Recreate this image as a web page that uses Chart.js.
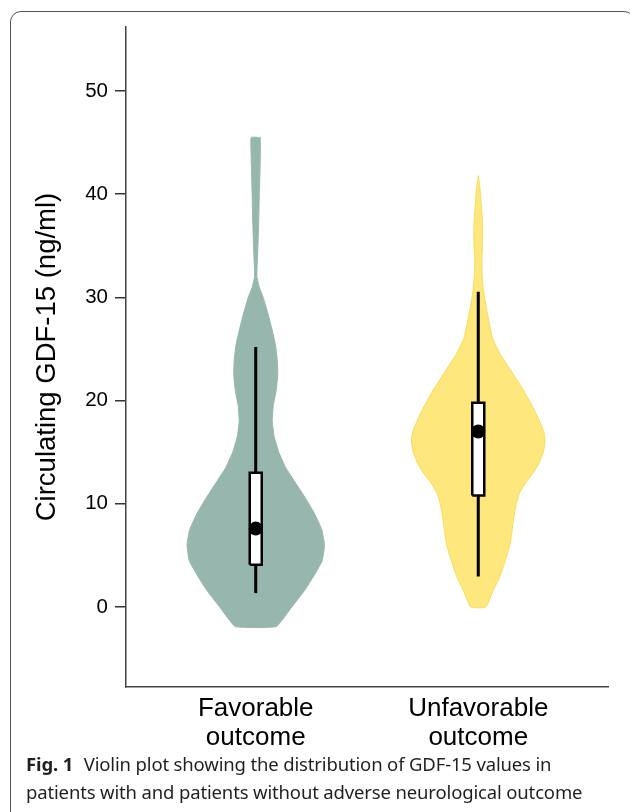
<!DOCTYPE html>
<html>
<head>
<meta charset="utf-8">
<script src="https://cdn.jsdelivr.net/npm/chart.js@4.4.1/dist/chart.umd.min.js"></script>
<style>
  html, body { margin: 0; padding: 0; background: #fff; }
  body { width: 630px; height: 812px; position: relative; overflow: hidden; }
  #moldura {
    position: absolute; left: 10px; top: 11px; width: 625px; height: 815px;
    border: 1.3px solid #555; border-radius: 11px; box-sizing: border-box;
  }
  #area { position: absolute; left: 0; top: 0; width: 630px; height: 760px; }
  #legenda {
    position: absolute; left: 26px; top: 750px; width: 604px;
    font-family: "Noto Sans", "Open Sans", sans-serif; font-size: 18.5px;
    line-height: 28px; color: #231f20; letter-spacing: -0.15px; white-space: nowrap;
  }
  #legenda b { font-weight: 700; margin-right: 6px; }
</style>
</head>
<body>
<div id="moldura"></div>
<div id="area"><canvas id="grafico"></canvas></div>
<div id="legenda"><b>Fig. 1</b> Violin plot showing the distribution of GDF-15 values in<br>patients with and patients without adverse neurological outcome</div>

<script>
// ============================
// Dados
// ============================
const grupos = [["Favorable", "outcome"], ["Unfavorable", "outcome"]];
const ticksY = [0, 10, 20, 30, 40, 50];

// perfil do violino: nível de GDF-15 e densidade relativa (1 = mais largo)
const favNiveis = [45.5, 44, 42, 40, 37.5, 35, 33, 32, 31, 30, 28.5, 27, 25.5, 24, 22.5, 21,
  19.5, 18, 16.5, 15, 13.5, 12, 10.5, 9, 7.5, 6, 4.5, 3, 1.5, 0, -1.9];
const favDensidade = [0.066, 0.068, 0.061, 0.052, 0.044, 0.032, 0.020, 0.017, 0.051, 0.109, 0.175, 0.233, 0.284, 0.313, 0.320, 0.298,
  0.255, 0.240, 0.269, 0.335, 0.437, 0.582, 0.728, 0.859, 0.961, 1.0, 0.968, 0.844, 0.699, 0.524, 0.298];

const desNiveis = [41.8, 40.5, 39, 37, 35, 33.5, 32, 30.6, 29, 27.5, 26, 24.5, 23, 21.5, 20,
  18.5, 17, 16, 15, 14, 13, 12, 11, 10, 9, 7.5, 6, 4.5, 3, 1.5, 0];
const desDensidade = [0, 0.026, 0.044, 0.063, 0.061, 0.051, 0.058, 0.077, 0.116, 0.160, 0.211, 0.320, 0.466, 0.611, 0.742,
  0.859, 0.953, 0.971, 0.946, 0.888, 0.801, 0.684, 0.597, 0.553, 0.524, 0.495, 0.459, 0.393, 0.316, 0.211, 0.109];

// box plot: [bigode inferior, Q1, mediana, Q3, bigode superior]
const favBox = [1.35, 4.1, 7.6, 13.0, 25.2];
const desBox = [2.95, 10.8, 17.0, 19.8, 30.55];

// ============================
// Estilo
// ============================
const LARGURA_VIOLINO = 0.309;   // meia largura máxima em unidades do eixo x
const LARGURA_CAIXA = 0.027;
const corFav = "#97b6ae";
const corDes = "#fee77c";

function contornoViolino(centro, niveis, dens) {
  const direita = niveis.map((y, i) => ({ x: centro + dens[i] * LARGURA_VIOLINO, y: y }));
  const esquerda = niveis.map((y, i) => ({ x: centro - dens[i] * LARGURA_VIOLINO, y: y })).reverse();
  const pts = direita.concat(esquerda);
  pts.push(direita[0]);
  return pts;
}

function caixa(centro, b) {
  return [
    { x: centro - LARGURA_CAIXA, y: b[1] },
    { x: centro + LARGURA_CAIXA, y: b[1] },
    { x: centro + LARGURA_CAIXA, y: b[3] },
    { x: centro - LARGURA_CAIXA, y: b[3] },
    { x: centro - LARGURA_CAIXA, y: b[1] }
  ];
}

const base = { showLine: true, pointRadius: 0, tension: 0 };

const datasets = [
  Object.assign({}, base, {
    data: contornoViolino(1, favNiveis, favDensidade), tension: 0.1,
    backgroundColor: corFav, borderColor: corFav, borderWidth: 1, fill: 'shape', order: 5
  }),
  Object.assign({}, base, {
    data: contornoViolino(2, desNiveis, desDensidade), tension: 0.15,
    backgroundColor: corDes, borderColor: "#f8dc5a", borderWidth: 1, fill: 'shape', order: 5
  }),
  Object.assign({}, base, {
    data: [{ x: 1, y: favBox[0] }, { x: 1, y: favBox[4] }],
    borderColor: "#000", borderWidth: 3, fill: false, order: 4
  }),
  Object.assign({}, base, {
    data: [{ x: 2, y: desBox[0] }, { x: 2, y: desBox[4] }],
    borderColor: "#000", borderWidth: 3, fill: false, order: 4
  }),
  Object.assign({}, base, {
    data: caixa(1, favBox), backgroundColor: "#fff", borderColor: "#000",
    borderWidth: 2.5, borderJoinStyle: 'miter', fill: 'shape', order: 3
  }),
  Object.assign({}, base, {
    data: caixa(2, desBox), backgroundColor: "#fff", borderColor: "#000",
    borderWidth: 2.5, borderJoinStyle: 'miter', fill: 'shape', order: 3
  }),
  {
    data: [{ x: 1, y: favBox[2] }, { x: 2, y: desBox[2] }],
    showLine: false, pointRadius: 7, pointBackgroundColor: "#000", pointBorderWidth: 0, order: 1
  }
];

const fonte = "'Liberation Sans', Arial, sans-serif";

new Chart(document.getElementById("grafico"), {
  type: 'scatter',
  data: { datasets: datasets },
  options: {
    responsive: true,
    maintainAspectRatio: false,
    animation: false,
    layout: { padding: { top: 27, right: 22, left: 0, bottom: 0 } },
    plugins: { legend: { display: false }, tooltip: { enabled: false } },
    scales: {
      x: {
        type: 'linear', min: 0.417, max: 2.583,
        afterBuildTicks: (s) => { s.ticks = [{ value: 1 }, { value: 2 }]; },
        afterFit: (s) => { s.height = 73; },
        grid: { display: false },
        border: { display: true, color: "#444", width: 1.5 },
        ticks: {
          color: "#000", padding: 0, maxRotation: 0,
          font: { family: fonte, size: 26, lineHeight: 1.1 },
          callback: (v) => grupos[v - 1]
        }
      },
      y: {
        min: -7.75, max: 56.2,
        afterBuildTicks: (s) => { s.ticks = ticksY.map(v => ({ value: v })); },
        afterFit: (s) => { s.width = 126; },
        grid: { drawOnChartArea: false, drawTicks: true, tickLength: 11, color: "#333", lineWidth: 1.5 },
        border: { display: true, color: "#444", width: 1.5 },
        ticks: { color: "#000", padding: 7, font: { family: fonte, size: 20.5 } },
        title: {
          display: true, text: "Circulating GDF-15 (ng/ml)", color: "#000",
          font: { family: fonte, size: 27.5, lineHeight: 1.2 }, padding: { top: 31, bottom: 0 }
        }
      }
    }
  }
});
</script>
</body>
</html>
